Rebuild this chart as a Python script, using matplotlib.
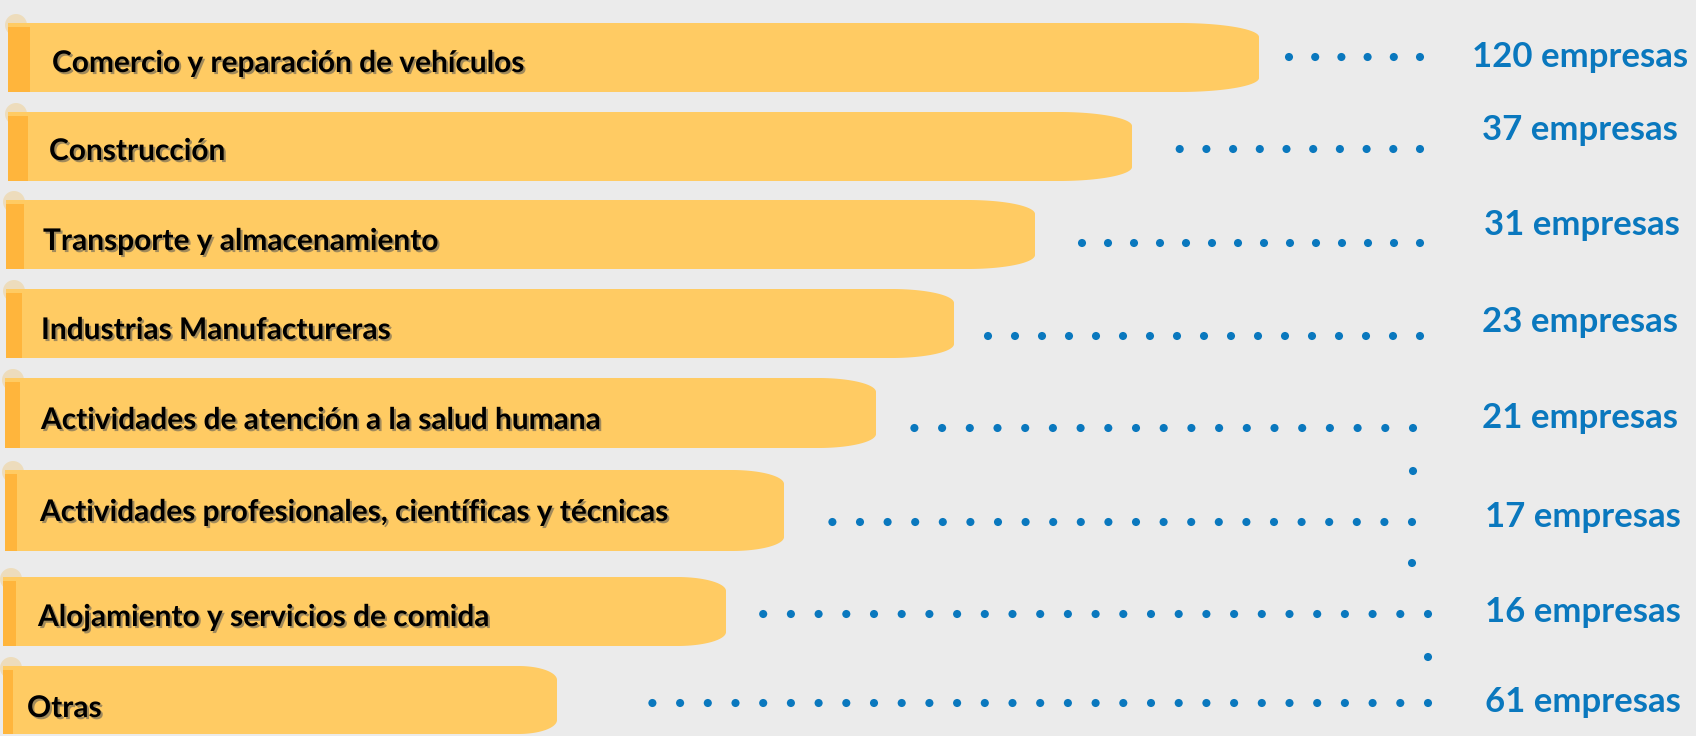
import numpy as np
import matplotlib
matplotlib.use("Agg")
import matplotlib.pyplot as plt
from matplotlib.patches import PathPatch, Rectangle, Ellipse
from matplotlib.path import Path
import matplotlib.patheffects as pe

# ---------------- data ----------------
categories = [
    "Comercio y reparación de vehículos",
    "Construcción",
    "Transporte y almacenamiento",
    "Industrias Manufactureras",
    "Actividades de atención a la salud humana",
    "Actividades profesionales, científicas y técnicas",
    "Alojamiento y servicios de comida",
    "Otras",
]
empresas = [120, 37, 31, 23, 21, 17, 16, 61]
value_labels = [f"{v} empresas" for v in empresas]
# visual bar extents (pixels)
bar_ends = [1259, 1132, 1035, 954, 876, 784, 726, 557]

# ---------------- layout / style ----------------
W, H = 1696, 736
bar_left = [8, 8, 6, 6, 5, 5, 3, 3]
bar_top = [23, 112, 200, 289, 378, 470, 577, 666]
bar_bot = [92, 181, 269, 358, 448, 551, 646, 734]
strip_right = [30, 28, 24, 22, 20, 17, 16, 13]
label_x = [52, 49, 43, 41, 41, 40, 38, 27]
label_y = [63, 151, 241, 330, 420, 512, 617, 708]
value_x = [1472, 1482, 1484, 1482, 1482, 1485, 1485, 1485]
value_y = [57, 130, 225, 322, 418, 517, 612, 702]
dot_y = [57, 149, 243, 336, 428, 522, 614, 703]
dot_x0 = [1289, 1180, 1082, 987, 915, 832, 763, 653]
dot_x1 = [1420, 1420, 1420, 1420, 1413, 1412, 1428, 1428]
dot_step = [26.2, 26.7, 26.0, 27.0, 27.7, 27.6, 27.7, 27.7]
vert_dots = [(1413, 471), (1412, 563), (1428, 657)]

BG = "#EBEBEB"
BAR = "#FFCB63"
STRIP = "#FFB53C"
TAB = "#EED7A8"
BLUE = "#0A78BE"

fig = plt.figure(figsize=(W / 100, H / 100), dpi=100, facecolor=BG)
ax = fig.add_axes([0, 0, 1, 1])
ax.set_facecolor(BG)
ax.set_xlim(0, W)
ax.set_ylim(H, 0)
ax.axis("off")


def bar_path(x0, x1, y0, y1, rx=45.0, ry=14.0):
    t = np.linspace(0, np.pi / 2, 30)
    pts = [(x0, y0)]
    for a in t:
        pts.append((x1 - rx + rx * np.sin(a), y0 + ry - ry * np.cos(a)))
    for a in t:
        pts.append((x1 - rx + rx * np.cos(a), y1 - ry + ry * np.sin(a)))
    pts.append((x0, y1))
    pts.append((x0, y0))
    return Path(pts, closed=True)


for i, cat in enumerate(categories):
    x0, x1 = bar_left[i], bar_ends[i]
    y0, y1 = bar_top[i], bar_bot[i]
    rx = min(80, 35 + (x1 - 500) * 0.06)
    # faint tab at the top-left
    ax.add_patch(Ellipse((x0 + 8, y0 + 2), 22, 22, facecolor=TAB,
                         edgecolor="none", alpha=0.7, zorder=1))
    ax.add_patch(PathPatch(bar_path(x0, x1, y0, y1, rx=rx, ry=14),
                           facecolor=BAR, edgecolor="none", zorder=2))
    ax.add_patch(Rectangle((x0, y0 + 4), strip_right[i] - x0, y1 - y0 - 4,
                           facecolor=STRIP, edgecolor="none", zorder=3))
    ax.text(label_x[i], label_y[i], cat, fontsize=21.5, fontweight="bold",
            family="Lato", color="black", ha="left", va="center", zorder=5,
            path_effects=[pe.withSimplePatchShadow(offset=(1.5, -1.5),
                                                   shadow_rgbFace="#555555",
                                                   alpha=0.55)])
    ax.text(value_x[i], value_y[i], value_labels[i], fontsize=25,
            fontweight="bold", family="Lato", color=BLUE, ha="left",
            va="center", zorder=5)
    xs = np.arange(dot_x1[i], dot_x0[i] - 1, -dot_step[i])
    ax.scatter(xs, np.full_like(xs, dot_y[i]), s=34, color=BLUE,
               edgecolors="none", zorder=4)

vx, vy = zip(*vert_dots)
ax.scatter(vx, vy, s=34, color=BLUE, edgecolors="none", zorder=4)

fig.savefig("out.png", dpi=100, facecolor=BG)
